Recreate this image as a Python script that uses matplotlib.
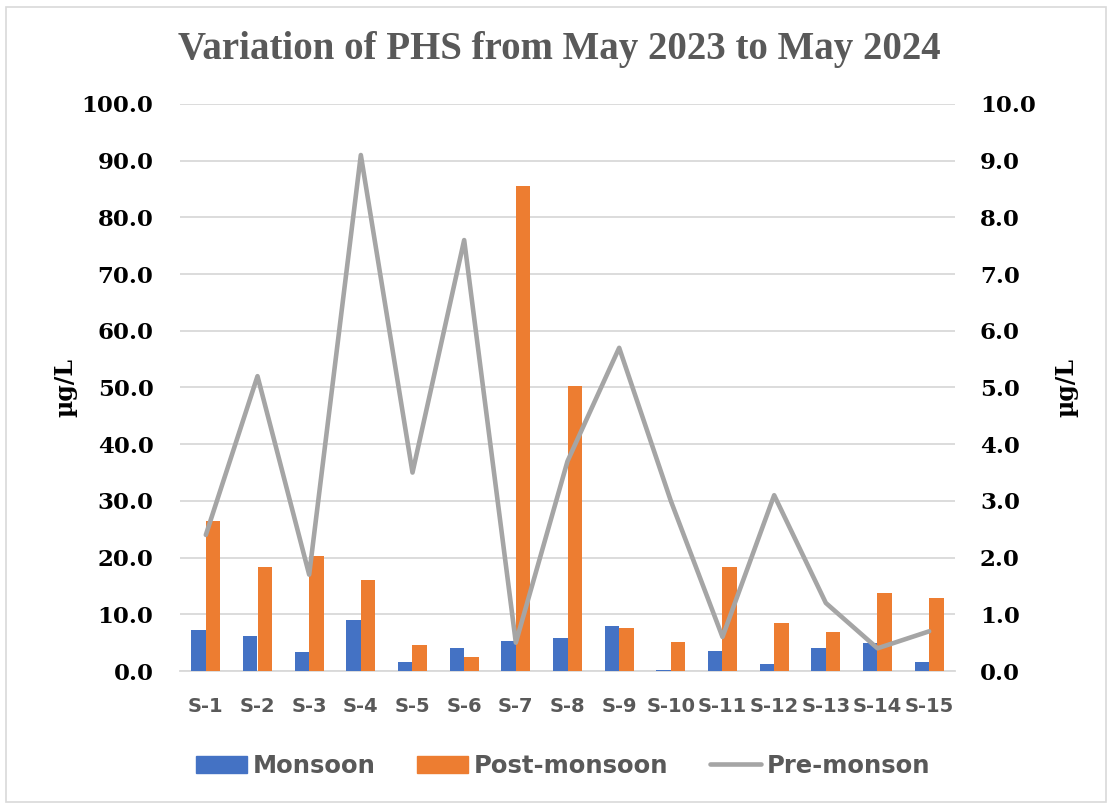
import numpy as np
import matplotlib.pyplot as plt
from matplotlib.patches import Rectangle
from matplotlib.lines import Line2D
from matplotlib.patches import Patch

# ── data ────────────────────────────────────────────────────────────
sites = ['S-1', 'S-2', 'S-3', 'S-4', 'S-5', 'S-6', 'S-7', 'S-8',
         'S-9', 'S-10', 'S-11', 'S-12', 'S-13', 'S-14', 'S-15']
monsoon = [7.3, 6.2, 3.4, 9.0, 1.5, 4.0, 5.3, 5.9,
           7.9, 0.2, 3.5, 1.2, 4.0, 4.9, 1.5]
post_monsoon = [26.4, 18.3, 20.2, 16.1, 4.6, 2.4, 85.6, 50.2,
                7.5, 5.2, 18.3, 8.5, 6.9, 13.8, 12.9]
pre_monsoon = [2.4, 5.2, 1.7, 9.1, 3.5, 7.6, 0.5, 3.7,
               5.7, 3.0, 0.6, 3.1, 1.2, 0.4, 0.7]

C_MON = '#4472C4'
C_POST = '#ED7D31'
C_PRE = '#A5A5A5'
C_GRID = '#D9D9D9'
C_TXT = '#595959'

SERIF = ['DejaVu Serif Condensed', 'DejaVu Serif']
NARROW = ['DejaVu Sans Condensed', 'DejaVu Sans']

W, H = 1108, 805
fig = plt.figure(figsize=(W / 100, H / 100), dpi=100)

# outer chart border
fig.patches.append(Rectangle((6 / W, 1 - 802 / H), 1100 / W, 795 / H,
                             transform=fig.transFigure, fill=False,
                             edgecolor=C_GRID, lw=1.2))

ax = fig.add_axes([180 / W, 1 - 671 / H, 775 / W, 567 / H])
x = np.arange(len(sites))
bw = 0.28
ax.bar(x - bw / 2, monsoon, bw, color=C_MON, zorder=3)
ax.bar(x + bw / 2, post_monsoon, bw, color=C_POST, zorder=3)

ax.set_xlim(-0.5, len(sites) - 0.5)
ax.set_ylim(0, 100)
ax.set_yticks(np.arange(0, 101, 10))
ax.set_yticklabels([f'{v:.1f}' for v in np.arange(0, 101, 10)],
                   family=SERIF, fontweight='bold', fontsize=16.5)
ax.set_xticks(x)
ax.set_xticklabels(sites, family=NARROW, fontweight='bold',
                   fontsize=14, color=C_TXT)
ax.yaxis.grid(True, color=C_GRID, lw=1.3, zorder=0)
ax.set_axisbelow(True)
for sp in ('top', 'right', 'left'):
    ax.spines[sp].set_visible(False)
ax.spines['bottom'].set_color(C_GRID)
ax.spines['bottom'].set_linewidth(1.3)
ax.tick_params(axis='y', length=0, pad=19)
ax.tick_params(axis='x', length=0, pad=19)
ax.set_ylabel('µg/L', family=SERIF, fontweight='bold', fontsize=17,
              labelpad=3)

ax2 = ax.twinx()
ax2.plot(x, pre_monsoon, color=C_PRE, lw=3.3, zorder=4,
         solid_joinstyle='round', solid_capstyle='round')
ax2.set_ylim(0, 10)
ax2.set_yticks(np.arange(0, 11, 1))
ax2.set_yticklabels([f'{v:.1f}' for v in np.arange(0, 11, 1)],
                    family=SERIF, fontweight='bold', fontsize=16.5)
for sp in ax2.spines.values():
    sp.set_visible(False)
ax2.tick_params(axis='y', length=0, pad=18)
ax2.set_ylabel('µg/L', family=SERIF, fontweight='bold', fontsize=17,
               rotation=90, labelpad=13)

fig.text(559 / W, 1 - 50 / H, 'Variation of PHS from May 2023 to May 2024',
         family=['Liberation Serif'], fontweight='bold', fontsize=28,
         color=C_TXT, ha='center', va='center')

handles = [Patch(color=C_MON), Patch(color=C_POST),
           Line2D([], [], color=C_PRE, lw=3.3, solid_capstyle='round')]
fig.legend(handles, ['Monsoon', 'Post-monsoon', 'Pre-monson'],
           loc='center', bbox_to_anchor=(563 / W, 1 - 766 / H), ncol=3,
           frameon=False, handlelength=2.1, handleheight=0.75,
           handletextpad=0.25, columnspacing=1.7,
           prop={'family': NARROW, 'weight': 'bold', 'size': 17.5},
           labelcolor=C_TXT)

fig.savefig('out.png', dpi=100)
